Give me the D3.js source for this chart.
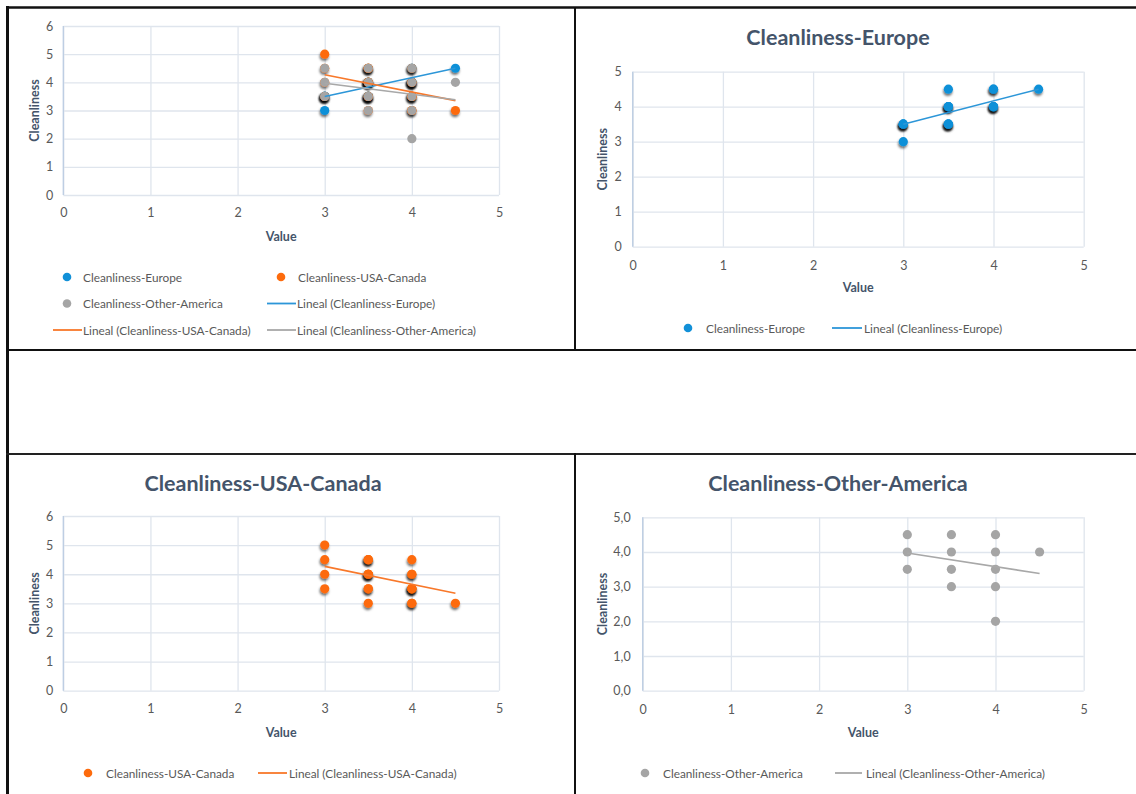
<!DOCTYPE html>
<html><head><meta charset="utf-8">
<script src="https://cdn.jsdelivr.net/npm/d3@7"></script>
<style>
html,body{margin:0;padding:0;background:#fff;}
svg text{font-family:Lato,"Open Sans",sans-serif;}
</style></head>
<body>
<svg id="c" width="1136" height="794"></svg>
<script>
// ---------- data ----------
const xTicks = [0, 1, 2, 3, 4, 5];
const yTicks6 = [0, 1, 2, 3, 4, 5, 6];
const yTicks5 = [0, 1, 2, 3, 4, 5];

// Cleanliness-Europe (n = number of overlapping duplicates)
const europeX = [3, 3,   3.5, 3.5, 3.5, 4, 4,   4.5];
const europeY = [3, 3.5, 3.5, 4,   4.5, 4, 4.5, 4.5];
const europeN = [1, 4,   4,   4,   1,   4, 2,   1];

// Cleanliness-USA-Canada
const usaX = [3, 3,   3, 3,   3.5, 3.5, 3.5, 3.5, 4,   4, 4,   4, 4.5];
const usaY = [5, 4.5, 4, 3.5, 4.5, 4,   3.5, 3,   4.5, 4, 3.5, 3, 3];
const usaN = [1, 1,   1, 1,   3,   4,   2,   1,   1,   2, 4,   2, 1];

// Cleanliness-Other-America
const otherX = [3,   3, 3,   3.5, 3.5, 3.5, 3.5, 4,   4, 4,   4, 4, 4.5];
const otherY = [4.5, 4, 3.5, 4.5, 4,   3.5, 3,   4.5, 4, 3.5, 3, 2, 4];
const otherN = [1,   1, 1,   1,   1,   1,   1,   1,   1, 1,   1, 1, 1];

// Linear trend lines (end points)
const trendX = [3, 4.5];
const europeTrendY = [3.5, 4.5];
const usaTrendY = [4.27, 3.35];
const otherTrendY = [3.97, 3.38];

const seriesNames = ["Cleanliness-Europe", "Cleanliness-USA-Canada", "Cleanliness-Other-America"];

// ---------- styles ----------
const COL = {europe: "#1190d8", usa: "#fd6b0d", other: "#a5a5a5"};
const TREND = {europe: "#2c96d8", usa: "#f8782a", other: "#a8a8a8"};
const TXT = "#595959", TITLE = "#44546a";
const LEG_FS = "11.8px", TICK_FS = "12.5px", AX_FS = "12.5px";

const series = {
  europe: {name: seriesNames[0], x: europeX, y: europeY, n: europeN, ty: europeTrendY, shadow: true},
  usa:    {name: seriesNames[1], x: usaX, y: usaY, n: usaN, ty: usaTrendY, shadow: true},
  other:  {name: seriesNames[2], x: otherX, y: otherY, n: otherN, ty: otherTrendY, shadow: false}
};

const svg = d3.select("#c");
svg.append("rect").attr("width", 1136).attr("height", 794).attr("fill", "#fff");

const defs = svg.append("defs");
const f = defs.append("filter").attr("id", "sh").attr("x", "-100%").attr("y", "-100%").attr("width", "300%").attr("height", "300%");
f.append("feDropShadow").attr("dx", -0.6).attr("dy", 2.2).attr("stdDeviation", 1.3)
  .attr("flood-color", "#000").attr("flood-opacity", 0.55);

// ---------- table borders ----------
const B = svg.append("g");
function ln(x1, y1, x2, y2, w, c) {
  B.append("line").attr("x1", x1).attr("y1", y1).attr("x2", x2).attr("y2", y2)
    .attr("stroke", c || "#111").attr("stroke-width", w);
}
ln(6, 7.5, 1136, 7.5, 2.5);
ln(7.5, 6, 7.5, 794, 3);
ln(575, 7, 575, 351, 2);
ln(6, 350, 1136, 350, 2);
ln(6, 454, 1136, 454, 2, "#222");
ln(575, 453, 575, 794, 2);

// ---------- chart drawer ----------
function chart(cfg) {
  const g = svg.append("g");
  const x = d3.scaleLinear().domain([0, 5]).range([cfg.x0, cfg.x1]);
  const y = d3.scaleLinear().domain([0, cfg.yMax]).range([cfg.yBot, cfg.yTop]);
  const w = cfg.x1 - cfg.x0, h = cfg.yBot - cfg.yTop;

  // gridlines
  const gy = g.append("g").attr("transform", `translate(${cfg.x0},0)`)
    .call(d3.axisLeft(y).tickValues(cfg.yTicks).tickSize(-w).tickFormat(""));
  gy.select(".domain").remove();
  gy.selectAll("line").attr("stroke", "#dfe5ed").attr("stroke-width", 1.3);
  const gx = g.append("g").attr("transform", `translate(0,${cfg.yTop})`)
    .call(d3.axisBottom(x).tickValues(xTicks).tickSize(h).tickFormat(""));
  gx.select(".domain").remove();
  gx.selectAll("line").attr("stroke", "#dfe5ed").attr("stroke-width", 1.3);
  // vertical axis line
  g.append("line").attr("x1", cfg.x0).attr("x2", cfg.x0).attr("y1", cfg.yTop).attr("y2", cfg.yBot)
    .attr("stroke", "#bccde2").attr("stroke-width", 1.3);

  // tick labels
  const ax = g.append("g").attr("transform", `translate(0,${cfg.yBot})`)
    .call(d3.axisBottom(x).tickValues(xTicks).tickSize(0).tickPadding(cfg.xPad).tickFormat(d3.format("d")));
  ax.select(".domain").remove();
  ax.selectAll("text").attr("fill", TXT).style("font-size", TICK_FS).style("font-family", "Lato");
  const ay = g.append("g").attr("transform", `translate(${cfg.x0},0)`)
    .call(d3.axisLeft(y).tickValues(cfg.yTicks).tickSize(0).tickPadding(cfg.yPad).tickFormat(cfg.fmt));
  ay.select(".domain").remove();
  ay.selectAll("text").attr("fill", TXT).style("font-size", TICK_FS).style("font-family", "Lato");

  // axis titles
  g.append("text").attr("x", (cfg.x0 + cfg.x1) / 2).attr("y", cfg.valueY).attr("text-anchor", "middle")
    .attr("dominant-baseline", "central").attr("fill", TITLE).style("font-size", AX_FS).style("font-weight", "bold")
    .text("Value");
  g.append("text").attr("transform", `translate(${cfg.ytX},${(cfg.yTop + cfg.yBot) / 2}) rotate(-90)`)
    .attr("text-anchor", "middle").attr("dominant-baseline", "central").attr("fill", TITLE)
    .style("font-size", AX_FS).style("font-weight", "bold").text("Cleanliness");

  if (cfg.title) {
    g.append("text").attr("x", cfg.titleX).attr("y", cfg.titleY).attr("text-anchor", "middle")
      .attr("dominant-baseline", "central").attr("fill", TITLE)
      .style("font-size", "21.5px").style("font-weight", "bold").text(cfg.title);
  }

  // points
  cfg.keys.forEach(k => {
    const s = series[k];
    const pts = [];
    s.x.forEach((xv, i) => { for (let j = 0; j < s.n[i]; j++) pts.push([xv, s.y[i]]); });
    const pg = g.append("g");
    pg.selectAll("circle").data(pts).join("circle")
      .attr("cx", d => x(d[0])).attr("cy", d => y(d[1])).attr("r", 4.6)
      .attr("fill", COL[k]).attr("filter", s.shadow ? "url(#sh)" : null);
  });
  // trend lines
  cfg.keys.forEach(k => {
    const s = series[k];
    g.append("path").datum(trendX.map((xv, i) => [xv, s.ty[i]]))
      .attr("d", d3.line().x(d => x(d[0])).y(d => y(d[1])))
      .attr("fill", "none").attr("stroke", TREND[k]).attr("stroke-width", 1.6);
  });

  // legend
  cfg.legend.forEach(it => {
    const s = series[it.k];
    if (it.type === "pt") {
      g.append("circle").attr("cx", it.mx).attr("cy", it.y).attr("r", 4.3).attr("fill", COL[it.k]);
      g.append("text").attr("x", it.tx).attr("y", it.y).attr("dominant-baseline", "central").attr("fill", TXT)
        .style("font-size", LEG_FS).text(s.name);
    } else {
      g.append("line").attr("x1", it.l1).attr("x2", it.l2).attr("y1", it.y).attr("y2", it.y)
        .attr("stroke", TREND[it.k]).attr("stroke-width", 1.8);
      g.append("text").attr("x", it.tx).attr("y", it.y).attr("dominant-baseline", "central").attr("fill", TXT)
        .style("font-size", LEG_FS).text(`Lineal (${s.name})`);
    }
  });
}

const fInt = d3.format("d");
const fComma = d => d3.format(".1f")(d).replace(".", ",");

chart({keys: ["europe", "usa", "other"], x0: 63.3, x1: 499, yTop: 26, yBot: 195, yMax: 6, yTicks: yTicks6, fmt: fInt,
  xPad: 13, yPad: 10, valueY: 236, ytX: 34,
  legend: [
    {k: "europe", type: "pt", mx: 67, tx: 83, y: 277},
    {k: "usa", type: "pt", mx: 281, tx: 298, y: 277},
    {k: "other", type: "pt", mx: 67, tx: 83, y: 303.5},
    {k: "europe", type: "ln", l1: 267, l2: 296, tx: 297, y: 303.5},
    {k: "usa", type: "ln", l1: 53, l2: 82, tx: 83, y: 330},
    {k: "other", type: "ln", l1: 267, l2: 296, tx: 297, y: 330}
  ]});

chart({keys: ["europe"], x0: 632.7, x1: 1083.7, yTop: 71.7, yBot: 246.7, yMax: 5, yTicks: yTicks5, fmt: fInt,
  xPad: 14, yPad: 11, valueY: 287, ytX: 602, title: "Cleanliness-Europe", titleX: 838, titleY: 37,
  legend: [
    {k: "europe", type: "pt", mx: 688, tx: 706, y: 328},
    {k: "europe", type: "ln", l1: 832, l2: 862, tx: 864, y: 328}
  ]});

chart({keys: ["usa"], x0: 63.3, x1: 499, yTop: 516, yBot: 690.7, yMax: 6, yTicks: yTicks6, fmt: fInt,
  xPad: 13, yPad: 10, valueY: 732, ytX: 34, title: "Cleanliness-USA-Canada", titleX: 263, titleY: 483,
  legend: [
    {k: "usa", type: "pt", mx: 88, tx: 106, y: 773},
    {k: "usa", type: "ln", l1: 258, l2: 287, tx: 289, y: 773}
  ]});

chart({keys: ["other"], x0: 642.7, x1: 1083.7, yTop: 517.3, yBot: 690.7, yMax: 5, yTicks: yTicks5, fmt: fComma,
  xPad: 14, yPad: 12, valueY: 732, ytX: 602, title: "Cleanliness-Other-America", titleX: 838, titleY: 483,
  legend: [
    {k: "other", type: "pt", mx: 645, tx: 663, y: 773},
    {k: "other", type: "ln", l1: 835, l2: 862, tx: 866, y: 773}
  ]});
</script>
</body></html>
